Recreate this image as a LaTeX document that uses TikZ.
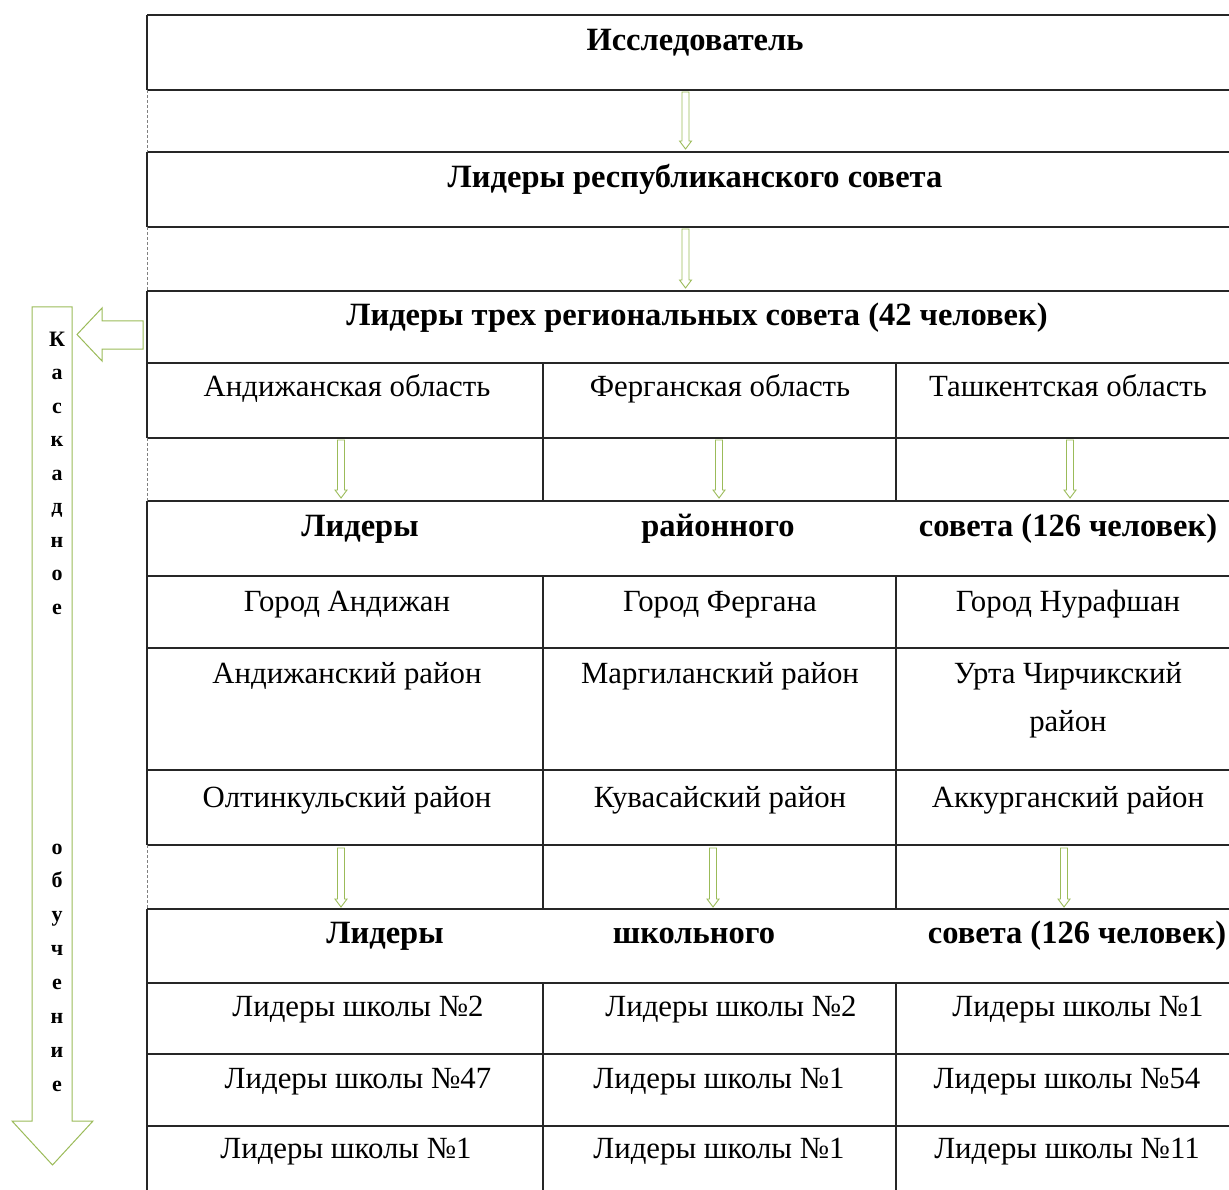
\documentclass[tikz,border=0pt]{standalone}
\usepackage{fontspec}
\setmainfont{Liberation Serif}
\definecolor{agreen}{RGB}{155,187,89}
\begin{document}
\begin{tikzpicture}[x=1pt,y=-1pt,
  gridline/.style={line width=1.6pt, black!85},
  gapline/.style={line width=0.7pt, gray, dash pattern=on 3pt off 2pt},
  cell/.style={anchor=base, inner sep=0pt, font=\fontsize{30.8}{34}\selectfont},
  hcell/.style={anchor=base, inner sep=0pt, font=\fontsize{32.5}{36}\selectfont\bfseries},
  blk/.style={draw=agreen, line width=1pt, fill=white},
  vletter/.style={anchor=base, inner sep=0pt, font=\fontsize{22}{24}\selectfont\bfseries}]
\useasboundingbox (0,0) rectangle (1229,1190);

% horizontal lines
\foreach \y in {15,90,152,227,291,363,438,501,576,648,770,845,909,983,1054,1126}
  \draw[gridline] (147,\y) -- (1229,\y);
% left border, solid parts
\foreach \a/\b in {15/90,152/227,291/438,501/845,909/1190}
  \draw[gridline] (147,\a) -- (147,\b);
% left border, dashed parts
\foreach \a/\b in {90/152,227/291,438/501,845/909}
  \draw[gapline] (147,\a) -- (147,\b);
% column dividers
\foreach \x in {543,896}
  \foreach \a/\b in {363/501,576/909,983/1190}
    \draw[gridline] (\x,\a) -- (\x,\b);

% small down arrows
\foreach \x/\t/\b [count=\i] in {685.5/92/149,685.5/229/288,341/440/498,719/440/498,1070/440/498,341/848/907,713/848/907,1064/848/907}{
  \draw[blk, line width=0.9pt] (\x-3.5,\t) -- (\x+3.5,\t) -- (\x+3.5,\b-8) -- (\x+6,\b-8) -- (\x,\b) -- (\x-6,\b-8) -- (\x-3.5,\b-8) -- cycle;
}

% big left arrow
\draw[blk] (143,321) -- (102,321) -- (102,308) -- (77,334.5) -- (102,361) -- (102,349) -- (143,349) -- cycle;
% big vertical arrow
\draw[blk] (32,307) -- (72,307) -- (72,1121) -- (93,1121) -- (52.5,1165) -- (12,1121) -- (32,1121) -- cycle;

% vertical letters
\foreach \l [count=\i from 0] in {К,а,с,к,а,д,н,о,е}
  \node[vletter] (va\i) at (57,346+33.5*\i) {\l};
\foreach \l [count=\i from 0] in {о,б,у,ч,е,н,и,е}
  \node[vletter] (vb\i) at (57,854+33.9*\i) {\l};

% texts
\node[hcell] (t1) at (695,51) {Исследователь};
\node[hcell] (t2) at (695,188) {Лидеры республиканского совета};
\node[hcell] (t3) at (697,326) {Лидеры трех региональных совета (42 человек)};

\node[cell] (r4a) at (347,396) {Андижанская область};
\node[cell] (r4b) at (720,396) {Ферганская область};
\node[cell] (r4c) at (1068,396) {Ташкентская область};

\node[hcell] (r6a) at (360,536) {Лидеры};
\node[hcell] (r6b) at (718,536) {районного};
\node[hcell] (r6c) at (1068,536) {совета (126 человек)};

\node[cell] (r7a) at (347,611) {Город Андижан};
\node[cell] (r7b) at (720,611) {Город Фергана};
\node[cell] (r7c) at (1068,611) {Город Нурафшан};

\node[cell] (r8a) at (347,683) {Андижанский район};
\node[cell] (r8b) at (720,683) {Маргиланский район};
\node[cell] (r8c) at (1068,683) {Урта Чирчикский};
\node[cell] (r8d) at (1068,731) {район};

\node[cell] (r9a) at (347,807) {Олтинкульский район};
\node[cell] (r9b) at (720,807) {Кувасайский район};
\node[cell] (r9c) at (1068,807) {Аккурганский район};

\node[hcell] (r11a) at (385,943) {Лидеры};
\node[hcell] (r11b) at (694,943) {школьного};
\node[hcell] (r11c) at (1077,943) {совета (126 человек)};

\node[cell] (r12a) at (358,1016) {Лидеры школы №2};
\node[cell] (r12b) at (731,1016) {Лидеры школы №2};
\node[cell] (r12c) at (1078,1016) {Лидеры школы №1};

\node[cell] (r13a) at (358,1088) {Лидеры школы №47};
\node[cell] (r13b) at (719,1088) {Лидеры школы №1};
\node[cell] (r13c) at (1067,1088) {Лидеры школы №54};

\node[cell] (r14a) at (346,1158) {Лидеры школы №1};
\node[cell] (r14b) at (719,1158) {Лидеры школы №1};
\node[cell] (r14c) at (1067,1158) {Лидеры школы №11};
\end{tikzpicture}
\end{document}
